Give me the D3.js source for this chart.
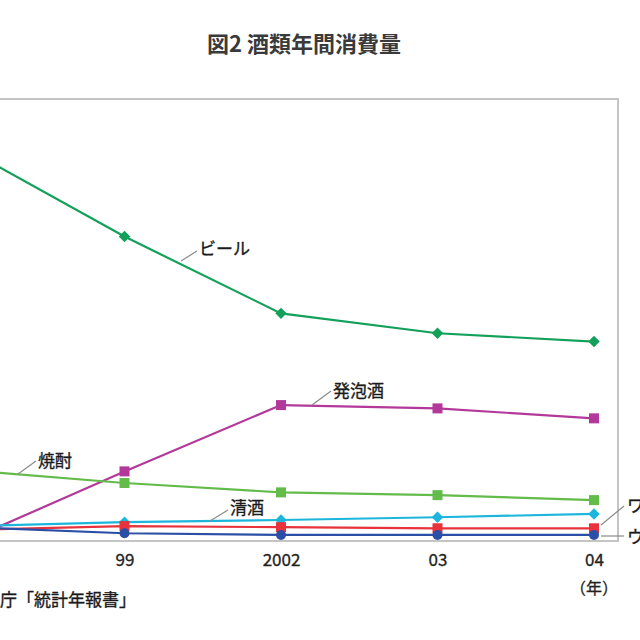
<!DOCTYPE html>
<html>
<head>
<meta charset="utf-8">
<script src="https://cdn.jsdelivr.net/npm/d3@7"></script>
<style>
  html, body { margin: 0; padding: 0; background: #fff; }
  svg { display: block; font-family: "Noto Sans CJK JP", "Noto Sans", sans-serif; }
</style>
</head>
<body>
<svg id="chart" width="640" height="640"></svg>
<script>
// ---- data (万kL) ----
const years = ["1996", "99", "2002", "03", "04"];
const beer     = [708, 551, 412, 376, 361];
const happoshu = [1, 126, 246, 240, 222];
const shochu   = [128, 105, 88, 83, 74];
const seishu   = [27, 34, 38, 43, 49];
const wine     = [20, 27, 25, 23, 23];
const whisky   = [25, 14, 11, 11, 11];
const seriesNames = ["ビール", "発泡酒", "焼酎", "清酒", "ワイン", "ウイスキー"];
const title = "図2 酒類年間消費量";
const source = "資料：国税庁「統計年報書」";
const unitX = "（年）";

const series = [
  { name: seriesNames[0], values: beer,     color: "#12a05a", marker: "diamond" },
  { name: seriesNames[1], values: happoshu, color: "#b2399a", marker: "square" },
  { name: seriesNames[2], values: shochu,   color: "#63bb4a", marker: "square" },
  { name: seriesNames[3], values: seishu,   color: "#1cb6dc", marker: "diamond" },
  { name: seriesNames[4], values: wine,     color: "#e8323c", marker: "square" },
  { name: seriesNames[5], values: whisky,   color: "#2b4fa6", marker: "circle" }
];

const svg = d3.select("#chart");
const plot = { left: -80, right: 618, top: 99, bottom: 541 };

const x = d3.scalePoint().domain(years).range([-32, 594]);
const y = d3.scaleLinear().domain([0, 800]).range([plot.bottom, plot.top]);

// title
svg.append("text")
  .attr("x", 304).attr("y", 52)
  .attr("text-anchor", "middle")
  .attr("font-size", 22).attr("font-weight", 700)
  .attr("fill", "#3a3a3a")
  .text(title);

// frame
svg.append("rect")
  .attr("x", plot.left).attr("y", plot.top)
  .attr("width", plot.right - plot.left).attr("height", plot.bottom - plot.top)
  .attr("fill", "none").attr("stroke", "#c4c4c4").attr("stroke-width", 2);

// x axis labels
const xAxis = d3.axisBottom(x).tickSize(0).tickPadding(0);
const gx = svg.append("g").attr("transform", `translate(0,${plot.bottom})`).call(xAxis);
gx.select(".domain").remove();
gx.selectAll("text")
  .attr("dy", null).attr("y", 25)
  .attr("font-size", 17).attr("fill", "#222")
  .attr("stroke", "#222").attr("stroke-width", 0.3)
  .attr("font-family", "\"Noto Sans CJK JP\", sans-serif");

svg.append("text")
  .attr("x", x("04")).attr("y", 594)
  .attr("text-anchor", "middle")
  .attr("font-size", 16).attr("fill", "#222")
  .attr("stroke", "#222").attr("stroke-width", 0.3)
  .text(unitX);

// lines
const line = d3.line().x((d, i) => x(years[i])).y(d => y(d));
series.forEach(s => {
  svg.append("path")
    .datum(s.values)
    .attr("d", line)
    .attr("fill", "none")
    .attr("stroke", s.color)
    .attr("stroke-width", 2.2);
});

// markers
series.forEach(s => {
  const g = svg.append("g");
  s.values.forEach((v, i) => {
    const cx = x(years[i]), cy = y(v);
    if (s.marker === "square") {
      g.append("rect").attr("x", cx - 5).attr("y", cy - 5)
        .attr("width", 10).attr("height", 10).attr("fill", s.color);
    } else if (s.marker === "diamond") {
      g.append("path")
        .attr("d", d3.symbol().type(d3.symbolDiamond2).size(84)())
        .attr("transform", `translate(${cx},${cy})`)
        .attr("fill", s.color);
    } else {
      g.append("circle").attr("cx", cx).attr("cy", cy).attr("r", 5).attr("fill", s.color);
    }
  });
});

// series labels with leader lines
const labels = [
  { name: seriesNames[0], lx1: 181, ly1: 261, lx2: 197, ly2: 251, tx: 199, ty: 255 },
  { name: seriesNames[1], lx1: 312, ly1: 405, lx2: 331, ly2: 391, tx: 333, ty: 397 },
  { name: seriesNames[2], lx1: 18,  ly1: 474, lx2: 36,  ly2: 461, tx: 38,  ty: 467 },
  { name: seriesNames[3], lx1: 210, ly1: 521, lx2: 228, ly2: 510, tx: 230, ty: 514 },
  { name: seriesNames[4], lx1: 601, ly1: 525, lx2: 624, ly2: 506, tx: 627, ty: 512 },
  { name: seriesNames[5], lx1: 601, ly1: 536, lx2: 624, ly2: 536, tx: 627, ty: 543 }
];
labels.forEach(l => {
  svg.append("line")
    .attr("x1", l.lx1).attr("y1", l.ly1).attr("x2", l.lx2).attr("y2", l.ly2)
    .attr("stroke", "#8a8a8a").attr("stroke-width", 1.2);
  svg.append("text")
    .attr("x", l.tx).attr("y", l.ty)
    .attr("font-size", 17).attr("fill", "#1a1a1a")
    .attr("stroke", "#1a1a1a").attr("stroke-width", 0.35)
    .text(l.name);
});

// source
svg.append("text")
  .attr("x", -85).attr("y", 606)
  .attr("font-size", 17).attr("fill", "#1a1a1a")
  .attr("stroke", "#1a1a1a").attr("stroke-width", 0.35)
  .text(source);
</script>
</body>
</html>
